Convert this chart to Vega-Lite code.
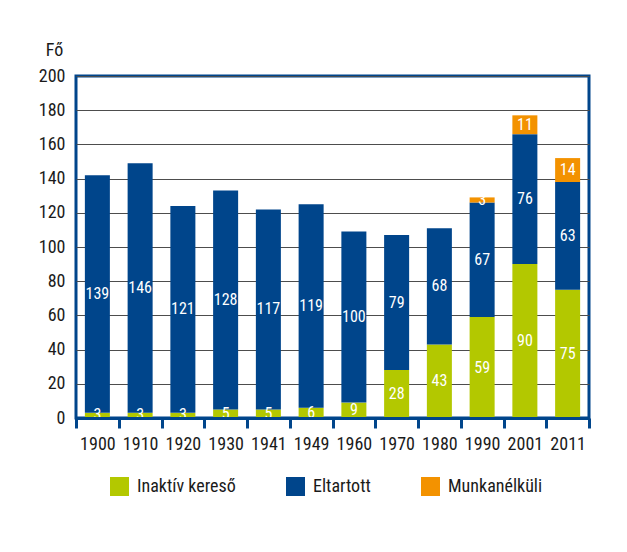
{
  "$schema": "https://vega.github.io/schema/vega-lite/v6.json",
  "width": 513,
  "height": 342,
  "autosize": "none",
  "padding": {"left": 76, "top": 76, "right": 38, "bottom": 134},
  "background": "white",
  "config": {
    "view": {"stroke": "#00458b", "strokeWidth": 3},
    "font": "'Roboto Condensed', 'Liberation Sans Narrow', 'Liberation Sans', sans-serif"
  },
  "data": {
    "values": [
      {"year": "1900", "series": "Inaktív kereső", "o": 1, "value": 3},
      {"year": "1900", "series": "Eltartott", "o": 2, "value": 139},
      {"year": "1910", "series": "Inaktív kereső", "o": 1, "value": 3},
      {"year": "1910", "series": "Eltartott", "o": 2, "value": 146},
      {"year": "1920", "series": "Inaktív kereső", "o": 1, "value": 3},
      {"year": "1920", "series": "Eltartott", "o": 2, "value": 121},
      {"year": "1930", "series": "Inaktív kereső", "o": 1, "value": 5},
      {"year": "1930", "series": "Eltartott", "o": 2, "value": 128},
      {"year": "1941", "series": "Inaktív kereső", "o": 1, "value": 5},
      {"year": "1941", "series": "Eltartott", "o": 2, "value": 117},
      {"year": "1949", "series": "Inaktív kereső", "o": 1, "value": 6},
      {"year": "1949", "series": "Eltartott", "o": 2, "value": 119},
      {"year": "1960", "series": "Inaktív kereső", "o": 1, "value": 9},
      {"year": "1960", "series": "Eltartott", "o": 2, "value": 100},
      {"year": "1970", "series": "Inaktív kereső", "o": 1, "value": 28},
      {"year": "1970", "series": "Eltartott", "o": 2, "value": 79},
      {"year": "1980", "series": "Inaktív kereső", "o": 1, "value": 43},
      {"year": "1980", "series": "Eltartott", "o": 2, "value": 68},
      {"year": "1990", "series": "Inaktív kereső", "o": 1, "value": 59},
      {"year": "1990", "series": "Eltartott", "o": 2, "value": 67},
      {"year": "1990", "series": "Munkanélküli", "o": 3, "value": 3},
      {"year": "2001", "series": "Inaktív kereső", "o": 1, "value": 90},
      {"year": "2001", "series": "Eltartott", "o": 2, "value": 76},
      {"year": "2001", "series": "Munkanélküli", "o": 3, "value": 11},
      {"year": "2011", "series": "Inaktív kereső", "o": 1, "value": 75},
      {"year": "2011", "series": "Eltartott", "o": 2, "value": 63},
      {"year": "2011", "series": "Munkanélküli", "o": 3, "value": 14}
    ]
  },
  "encoding": {
    "x": {
      "field": "year",
      "type": "ordinal",
      "scale": {"paddingInner": 0, "paddingOuter": 0},
      "axis": {
        "title": null,
        "labelAngle": 0,
        "tickBand": "extent",
        "tickSize": 10,
        "tickWidth": 3,
        "tickColor": "#00458b",
        "domain": true,
        "domainColor": "#00458b",
        "domainWidth": 3,
        "labelFontSize": 18,
        "labelPadding": 7,
        "labelColor": "#1a1a1a",
        "grid": false,
        "zindex": 1
      }
    },
    "y": {
      "field": "value",
      "type": "quantitative",
      "stack": "zero",
      "scale": {"domain": [0, 200], "nice": false},
      "axis": {
        "title": "Fő",
        "titleAngle": 0,
        "titleX": -22,
        "titleY": -26,
        "titleAlign": "center",
        "titleBaseline": "middle",
        "titleFontSize": 18,
        "titleFontWeight": "normal",
        "titleColor": "#1a1a1a",
        "values": [0, 20, 40, 60, 80, 100, 120, 140, 160, 180, 200],
        "ticks": false,
        "domain": false,
        "labelFontSize": 18,
        "labelPadding": 11,
        "labelColor": "#1a1a1a",
        "grid": true,
        "gridColor": "#4d4d4d",
        "gridWidth": 1.2
      }
    },
    "order": {"field": "o", "type": "quantitative", "sort": "ascending"}
  },
  "layer": [
    {
      "mark": {"type": "bar", "width": {"band": 0.585}},
      "encoding": {
        "color": {
          "field": "series",
          "type": "nominal",
          "scale": {
            "domain": ["Inaktív kereső", "Eltartott", "Munkanélküli"],
            "range": ["#b3c800", "#00458b", "#f39200"]
          },
          "legend": {
            "orient": "none",
            "legendX": 34,
            "legendY": 401,
            "direction": "horizontal",
            "title": null,
            "symbolType": "square",
            "symbolSize": 361,
            "symbolStrokeWidth": 0,
            "symbolOpacity": 1,
            "labelFontSize": 18,
            "labelOffset": 8,
            "labelColor": "#1a1a1a",
            "labelLimit": 300,
            "columnPadding": 50,
            "padding": 0
          }
        }
      }
    },
    {
      "mark": {
        "type": "text",
        "color": "white",
        "fontSize": 16,
        "baseline": "middle",
        "align": "center",
        "dy": {"expr": "(scale('y', 0) - scale('y', datum.value)) / 2"}
      },
      "encoding": {
        "detail": {"field": "series"},
        "text": {"field": "value", "type": "quantitative"}
      }
    }
  ]
}
